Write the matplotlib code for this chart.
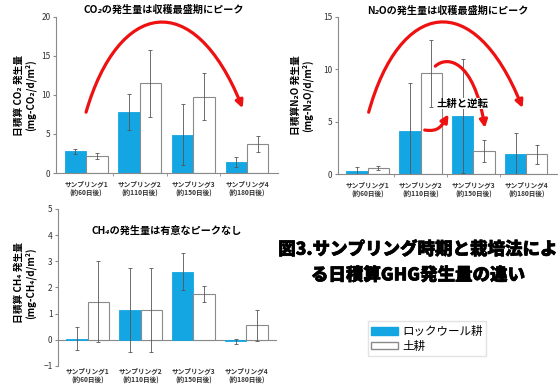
import numpy as np
import matplotlib.pyplot as plt
from matplotlib.patches import FancyArrowPatch, Patch
from matplotlib.path import Path
import matplotlib.patheffects as pe

plt.rcParams['font.family'] = ['Noto Sans CJK JP', 'DejaVu Sans']

# sampling periods
samplings = ["サンプリング1\n(約60日後)", "サンプリング2\n(約110日後)",
             "サンプリング3\n(約150日後)", "サンプリング4\n(約180日後)"]
methods = ["ロックウール耕", "土耕"]

# daily CO2 (mg-CO2/d/m2): mean and error
co2_rock = [2.8, 7.8, 4.9, 1.4]
co2_rock_err = [0.3, 2.3, 3.9, 0.6]
co2_soil = [2.2, 11.5, 9.8, 3.7]
co2_soil_err = [0.4, 4.3, 3.0, 1.0]

# daily N2O (mg-N2O/d/m2)
n2o_rock = [0.3, 4.1, 5.55, 1.9]
n2o_rock_err = [0.4, 4.6, 5.45, 2.0]
n2o_soil = [0.55, 9.6, 2.2, 1.9]
n2o_soil_err = [0.2, 3.2, 1.05, 0.9]

# daily CH4 (mg-CH4/d/m2)
ch4_rock = [0.05, 1.15, 2.6, -0.05]
ch4_rock_err = [0.45, 1.6, 0.7, 0.1]
ch4_soil = [1.45, 1.15, 1.75, 0.55]
ch4_soil_err = [1.55, 1.6, 0.3, 0.6]

BLUE = "#14a6e2"
EDGE = "#8a8a8a"
W = 0.4


def draw_panel(ax, rock, rock_err, soil, soil_err, ylim, yticks, pad=5, spacing=1.5):
    x = np.arange(len(samplings))
    ax.bar(x - W / 2, rock, W, color=BLUE, edgecolor=BLUE, linewidth=0.6, zorder=2)
    ax.bar(x + W / 2, soil, W, color="white", edgecolor=EDGE, linewidth=0.8, zorder=2)
    ax.errorbar(x - W / 2, rock, yerr=rock_err, fmt="none", ecolor="#555555",
                elinewidth=0.6, capsize=1.5, capthick=0.6, zorder=3)
    ax.errorbar(x + W / 2, soil, yerr=soil_err, fmt="none", ecolor="#555555",
                elinewidth=0.6, capsize=1.5, capthick=0.6, zorder=3)
    ax.set_ylim(*ylim)
    ax.set_yticks(yticks)
    ax.set_xlim(-0.56, 3.58)
    ax.set_xticks(x)
    ax.set_xticklabels(samplings, fontsize=4.8, fontweight="bold", style="italic",
                       color="#333333", linespacing=spacing)
    ax.set_xticks(x[:-1] + 0.5, minor=True)
    ax.tick_params(axis="x", which="major", length=0, pad=pad)
    ax.tick_params(axis="x", which="minor", length=2, color=EDGE, direction="out")
    ax.tick_params(axis="y", labelsize=6, length=2, color=EDGE, labelcolor="#333333", pad=2)
    for s in ("top", "right"):
        ax.spines[s].set_visible(False)
    for s in ("left", "bottom"):
        ax.spines[s].set_color(EDGE)
        ax.spines[s].set_linewidth(0.8)


def red_curve(ax, pts, head=True, lw=2.3):
    codes = [Path.MOVETO] + [Path.CURVE4] * (len(pts) - 1)
    arrow = FancyArrowPatch(path=Path(pts, codes),
                            arrowstyle="-|>" if head else "-",
                            mutation_scale=11, lw=lw, color="#ee1111",
                            clip_on=False, zorder=5)
    ax.add_patch(arrow)


fig = plt.figure(figsize=(5.58, 3.85), dpi=100)

# CO2
ax1 = fig.add_axes([0.1004, 0.5506, 0.398, 0.4054])
draw_panel(ax1, co2_rock, co2_rock_err, co2_soil, co2_soil_err, (0, 20), [0, 5, 10, 15, 20])
ax1.set_ylabel("日積算 CO₂ 発生量\n(mg-CO₂/d/m²)", fontsize=7, fontweight="bold",
               linespacing=1.1)
ax1.yaxis.set_label_coords(-0.09, 0.5)
ax1.text(1.45, 20.2, "CO₂の発生量は収穫最盛期にピーク", fontsize=7.3, fontweight="bold",
         style="italic", ha="center", va="bottom", clip_on=False)
red_curve(ax1, [(0.0, 7.8), (0.6, 22.0), (2.0, 24.0), (2.92, 8.3)])

# N2O
ax2 = fig.add_axes([0.6057, 0.548, 0.3925, 0.408])
draw_panel(ax2, n2o_rock, n2o_rock_err, n2o_soil, n2o_soil_err, (0, 15), [0, 5, 10, 15])
ax2.set_ylabel("日積算N₂O 発生量\n(mg-N₂O/d/m²)", fontsize=7, fontweight="bold",
               linespacing=1.1)
ax2.yaxis.set_label_coords(-0.114, 0.5)
ax2.text(1.52, 15.1, "N₂Oの発生量は収穫最盛期にピーク", fontsize=7.3, fontweight="bold",
         style="italic", ha="center", va="bottom", clip_on=False)
red_curve(ax2, [(0.02, 5.9), (0.6, 16.5), (2.0, 18.0), (2.93, 6.3)])
red_curve(ax2, [(1.28, 10.3), (1.5, 11.3), (2.0, 11.0), (2.22, 4.4)])
red_curve(ax2, [(1.08, 4.2), (1.35, 4.0), (1.4, 4.6), (1.53, 5.7)])
ax2.text(1.8, 6.7, "土耕と逆転", fontsize=7.5, fontweight="bold", ha="center",
         va="center", zorder=6,
         bbox=dict(boxstyle="square,pad=0.05", fc="white", ec="none"))

# CH4
ax3 = fig.add_axes([0.104, 0.0494, 0.3925, 0.4078])
draw_panel(ax3, ch4_rock, ch4_rock_err, ch4_soil, ch4_soil_err, (-1, 5),
           [-1, 0, 1, 2, 3, 4, 5], pad=1, spacing=1.3)
ax3.axhline(0, color=EDGE, lw=0.8, zorder=1)
ax3.spines["bottom"].set_visible(False)
ax3.tick_params(axis="x", which="minor", length=0)
ax3.set_ylabel("日積算 CH₄ 発生量\n(mg-CH₄/d/m²)", fontsize=7, fontweight="bold",
               linespacing=1.1)
ax3.yaxis.set_label_coords(-0.10, 0.53)
ax3.text(1.5, 4.15, "CH₄の発生量は有意なピークなし", fontsize=7.3, fontweight="bold",
         style="italic", ha="center", va="center")

# figure caption
fig.text(0.749, 0.318, "図3.サンプリング時期と栽培法によ\nる日積算GHG発生量の違い",
         fontsize=12.6, fontweight="heavy", ha="center", va="center", linespacing=1.55,
         path_effects=[pe.withStroke(linewidth=0.5, foreground="black")])

handles = [Patch(facecolor=BLUE, edgecolor=BLUE),
           Patch(facecolor="white", edgecolor=EDGE)]
fig.legend(handles, methods, loc="center", bbox_to_anchor=(0.765, 0.12),
           fontsize=8.3, frameon=True, edgecolor="#dddddd", fancybox=False,
           handlelength=2.3, handleheight=0.6, handletextpad=0.4,
           labelspacing=0.15, borderpad=0.3)

fig.savefig("out.png", dpi=100)
